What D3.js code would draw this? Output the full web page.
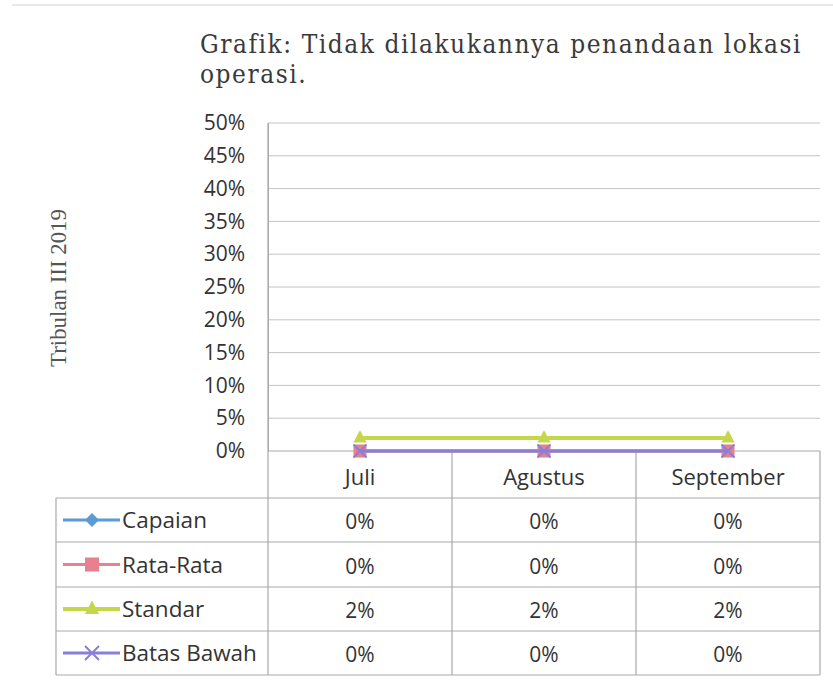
<!DOCTYPE html>
<html><head><meta charset="utf-8">
<script src="https://cdn.jsdelivr.net/npm/d3@7"></script>
<style>body{margin:0;background:#fff}svg{display:block}</style>
</head><body>
<svg id="c" width="833" height="686"></svg>
<script>
const categories = ["Juli", "Agustus", "September"];
const seriesNames = ["Capaian", "Rata-Rata", "Standar", "Batas Bawah"];
const capaian = [0, 0, 0];
const rataRata = [0, 0, 0];
const standar = [0.02, 0.02, 0.02];
const batasBawah = [0, 0, 0];
const yTicks = [0, 0.05, 0.10, 0.15, 0.20, 0.25, 0.30, 0.35, 0.40, 0.45, 0.50];
const titleLines = ["Grafik: Tidak dilakukannya penandaan lokasi", "operasi."];
const yAxisTitle = "Tribulan III 2019";

const series = [
  {name: seriesNames[0], values: capaian, color: "#5b9bd5", marker: "diamond", lw: 3},
  {name: seriesNames[1], values: rataRata, color: "#e8808f", marker: "square", lw: 3},
  {name: seriesNames[2], values: standar, color: "#c4d64a", marker: "triangle", lw: 4},
  {name: seriesNames[3], values: batasBawah, color: "#8a7fd6", marker: "x", lw: 3}
];

const svg = d3.select("#c");
const pLeft = 268, pRight = 820, pTop = 123, pBottom = 451;
const tableLeft = 56;
const rowEdges = [498, 542, 587, 631, 675];
const sans = "'Open Sans', sans-serif";
const serif = "'Liberation Serif', serif";

const x = d3.scaleBand().domain(categories).range([pLeft, pRight]).paddingInner(0).paddingOuter(0);
const y = d3.scaleLinear().domain([0, 0.5]).range([pBottom, pTop]);

// faint page frame
svg.append("line").attr("x1", 12).attr("x2", 833).attr("y1", 5).attr("y2", 5)
  .attr("stroke", "#e2e2e2").attr("stroke-width", 1.5);

// title
const tg = svg.append("g");
titleLines.forEach((t, i) => {
  tg.append("text").attr("x", 200).attr("y", 53 + i * 30).text(t)
    .attr("font-family", "'DejaVu Serif Condensed', 'DejaVu Serif', serif")
    .attr("font-stretch", "condensed")
    .attr("font-size", 26).attr("fill", "#3a3a3a");
});
const w0 = tg.select("text").node().getComputedTextLength();
const ls = Math.max(0, (600 - w0) / (titleLines[0].length - 1));
tg.selectAll("text").attr("letter-spacing", ls);

// y axis title
const at = svg.append("text").attr("transform", `translate(66,288) rotate(-90)`)
  .attr("text-anchor", "middle").attr("font-family", serif)
  .attr("font-size", 100).attr("fill", "#555").text(yAxisTitle);
const w1 = at.node().getComputedTextLength();
at.attr("font-size", 100 * 158 / w1);

// gridlines
svg.append("g").selectAll("line").data(yTicks.filter(d => d > 0)).join("line")
  .attr("x1", pLeft).attr("x2", pRight).attr("y1", d => y(d)).attr("y2", d => y(d))
  .attr("stroke", "#c4c4c4").attr("stroke-width", 1);

// y axis via d3
const yAxis = d3.axisLeft(y).tickValues(yTicks).tickFormat(d3.format(".0%")).tickSize(0).tickPadding(23);
const ya = svg.append("g").attr("transform", `translate(${pLeft},0)`).call(yAxis);
ya.select(".domain").attr("stroke", "#aaa");
ya.selectAll("text").attr("font-family", sans).attr("font-size", 21).attr("fill", "#333");

// table lines
const tcol = "#a9a9a9";
const tl = svg.append("g").attr("stroke", tcol).attr("stroke-width", 1.2);
tl.append("line").attr("x1", pLeft).attr("x2", pRight).attr("y1", pBottom).attr("y2", pBottom);
rowEdges.forEach(r => tl.append("line").attr("x1", tableLeft).attr("x2", pRight).attr("y1", r).attr("y2", r));
tl.append("line").attr("x1", tableLeft).attr("x2", tableLeft).attr("y1", rowEdges[0]).attr("y2", rowEdges[4]);
tl.append("line").attr("x1", pLeft).attr("x2", pLeft).attr("y1", pTop).attr("y2", rowEdges[4]);
categories.forEach(c => {
  tl.append("line").attr("x1", x(c) + x.bandwidth()).attr("x2", x(c) + x.bandwidth())
    .attr("y1", pBottom).attr("y2", rowEdges[4]);
});

// header categories
svg.append("g").selectAll("text").data(categories).join("text")
  .attr("x", d => x(d) + x.bandwidth() / 2).attr("y", 485)
  .attr("text-anchor", "middle").attr("font-family", sans).attr("font-size", 22)
  .attr("fill", "#333").text(d => d);

// marker function
function drawMarker(g, type, cx, cy, color, s) {
  if (type === "diamond") {
    g.append("path").attr("d", `M${cx},${cy - s}L${cx + s},${cy}L${cx},${cy + s}L${cx - s},${cy}Z`).attr("fill", color);
  } else if (type === "square") {
    g.append("rect").attr("x", cx - s).attr("y", cy - s).attr("width", 2 * s).attr("height", 2 * s).attr("fill", color);
  } else if (type === "triangle") {
    g.append("path").attr("d", `M${cx},${cy - s * 1.2}L${cx + s},${cy + s * 0.7}L${cx - s},${cy + s * 0.7}Z`).attr("fill", color);
  } else if (type === "x") {
    g.append("path").attr("d", `M${cx - s},${cy - s}L${cx + s},${cy + s}M${cx - s},${cy + s}L${cx + s},${cy - s}`)
      .attr("stroke", color).attr("stroke-width", 2);
  }
}

// lines
const line = d3.line().x((d, i) => x(categories[i]) + x.bandwidth() / 2).y(d => y(d));
const lg = svg.append("g");
series.forEach(s => {
  lg.append("path").attr("d", line(s.values)).attr("fill", "none")
    .attr("stroke", s.color).attr("stroke-width", s.lw);
  s.values.forEach((v, i) => drawMarker(lg, s.marker, x(categories[i]) + x.bandwidth() / 2, y(v), s.color, 6.5));
});

// table rows
series.forEach((s, r) => {
  const cy = (rowEdges[r] + rowEdges[r + 1]) / 2;
  const g = svg.append("g");
  g.append("line").attr("x1", 63).attr("x2", 120).attr("y1", cy).attr("y2", cy)
    .attr("stroke", s.color).attr("stroke-width", s.lw);
  drawMarker(g, s.marker, 92, cy, s.color, 7);
  g.append("text").attr("x", 122).attr("y", cy + 8).attr("font-family", sans).attr("font-size", 22.5)
    .attr("fill", "#333").text(s.name);
  s.values.forEach((v, i) => {
    g.append("text").attr("x", x(categories[i]) + x.bandwidth() / 2).attr("y", cy + 9)
      .attr("text-anchor", "middle").attr("font-family", sans).attr("font-size", 21)
      .attr("fill", "#333").text(d3.format(".0%")(v));
  });
});
</script>
</body></html>
